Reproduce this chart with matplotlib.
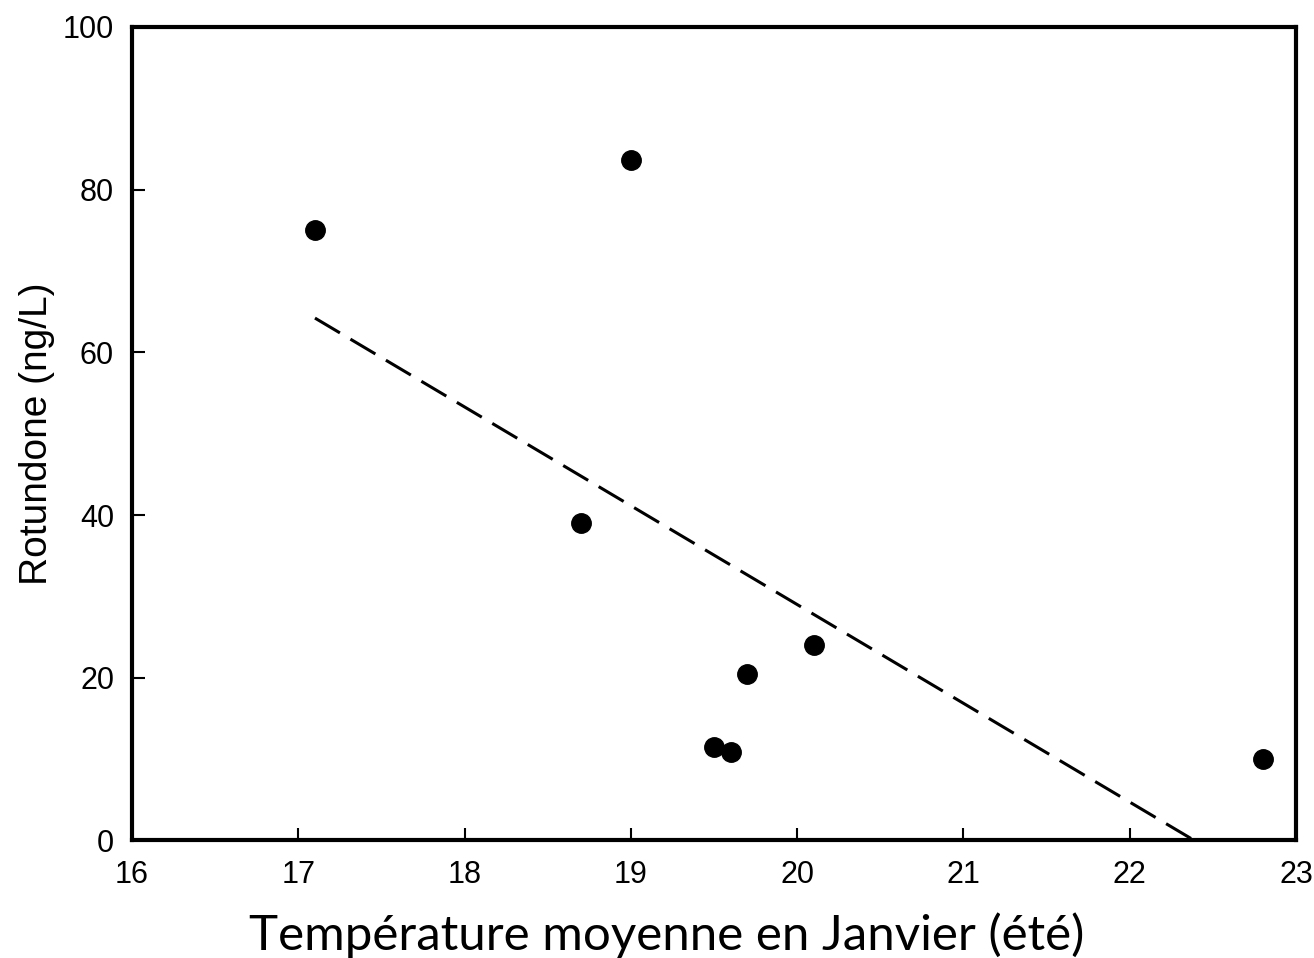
import numpy as np
import matplotlib.pyplot as plt

# Température moyenne de janvier (°C) et teneur en rotundone (ng/L)
temperature = [17.1, 19.0, 18.7, 19.5, 19.6, 19.7, 20.1, 22.8]
rotundone = [75.0, 83.6, 39.0, 11.5, 10.9, 20.5, 24.0, 10.0]

x_ticks = [16, 17, 18, 19, 20, 21, 22, 23]
y_ticks = [0, 20, 40, 60, 80, 100]

# Régression linéaire, tracée du premier point jusqu'à y = 0
pente, origine = np.polyfit(temperature, rotundone, 1)
x_fin = -origine / pente
x_reg = np.array([min(temperature), x_fin])
y_reg = pente * x_reg + origine

fig = plt.figure(figsize=(13.14, 9.58), dpi=100)
ax = fig.add_axes([0.1005, 0.1227, 0.8858, 0.8492])

ax.plot(x_reg, y_reg, color="black", linewidth=2.2, linestyle=(0, (9.5, 4)))
ax.plot(temperature, rotundone, "o", color="black", markersize=14, zorder=3)

ax.set_xlim(16, 23)
ax.set_ylim(0, 100)
ax.set_xticks(x_ticks)
ax.set_yticks(y_ticks)

for side in ax.spines.values():
    side.set_linewidth(3)
ax.tick_params(direction="in", length=9, width=1.5, labelsize=22)
ax.tick_params(axis="x", pad=14)
ax.tick_params(axis="y", pad=13)
for lab in ax.get_xticklabels() + ax.get_yticklabels():
    lab.set_fontfamily("Liberation Sans")

ax.set_ylabel("Rotundone (ng/L)", fontsize=28, family="Liberation Sans", va="center")
ax.yaxis.set_label_coords(-0.0816, 0.5)
ax.set_xlabel("Température moyenne en Janvier (été)", fontsize=35.5, family="Lato", va="center")
ax.xaxis.set_label_coords(0.4596, -0.116)

plt.savefig("out.png", dpi=100)
